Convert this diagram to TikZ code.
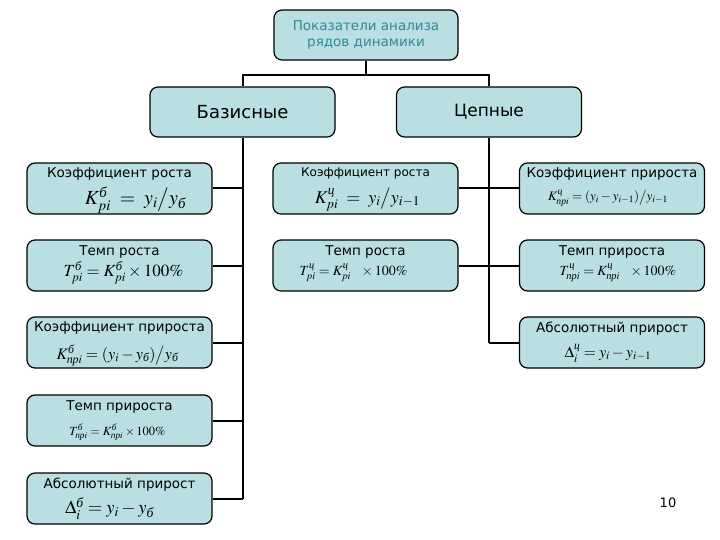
\documentclass[tikz,border=0pt]{standalone}
\usepackage{amsmath}
\usepackage{mathptmx}
\usepackage{fontspec}
\setmainfont{DejaVu Sans}
\newfontfamily\cyrserif{Liberation Serif}
\newcommand{\cy}[1]{\text{\cyrserif\itshape #1}}
\definecolor{boxfill}{HTML}{B9DFE3}
\definecolor{titleteal}{HTML}{2F8A92}
\tikzset{
  box/.style={draw=black, line width=1.2pt, fill=boxfill, rounded corners=8pt,
    minimum width=185pt, minimum height=51pt, inner sep=0pt},
  conn/.style={draw=black, line width=2pt},
  ttl/.style={font=\fontsize{13.5}{16}\selectfont, inner sep=0pt},
  frm/.style={inner sep=0pt}
}
\newcommand{\fs}[1]{\fontsize{#1}{#1}\selectfont}
\begin{document}
\begin{tikzpicture}[x=1pt,y={(0,-1pt)}]
\useasboundingbox[fill=white] (0,0) rectangle (720,540);
% top
\node[box, minimum width=184pt, minimum height=50pt, text=titleteal, align=center,
  font=\fontsize{13.5}{16}\selectfont] (top) at (366,35) {Показатели анализа\\рядов динамики};
\node[box, minimum height=50pt, font=\fontsize{18}{20}\selectfont] (bas) at (242.5,112) {Базисные};
\node[box, minimum height=50pt, font=\fontsize{17}{20}\selectfont] (cep) at (489,112) {Цепные};
% left column
\node[box] (l1) at (119.5,188.5) {};
\node[ttl] (l1t) at ([yshift=-12pt]l1.north) {Коэффициент роста};
\node[frm] (l1f) at ([xshift=16pt,yshift=-38pt]l1.north) {\fs{20}$K^{\cy{б}}_{pi} \;=\; y_i\big/ y_{\cy{б}}$};
\node[box] (l2) at (119.5,265.5) {};
\node[ttl] (l2t) at ([yshift=-13pt]l2.north) {Темп роста};
\node[frm] (l2f) at ([xshift=4pt,yshift=-33pt]l2.north) {\fs{17}$T^{\cy{б}}_{pi} = K^{\cy{б}}_{pi}\times 100\%$};
\node[box] (l3) at (119.5,342.5) {};
\node[ttl] (l3t) at ([yshift=-12pt]l3.north) {Коэффициент прироста};
\node[frm] (l3f) at ([xshift=-2pt,yshift=-39pt]l3.north) {\fs{16}$K^{\cy{б}}_{\cy{пр}i} = (y_i - y_{\cy{б}})\big/ y_{\cy{б}}$};
\node[box] (l4) at (119.5,420.5) {};
\node[ttl] (l4t) at ([yshift=-13pt]l4.north) {Темп прироста};
\node[frm] (l4f) at ([xshift=-2pt,yshift=-38pt]l4.north) {\fs{12.5}$T^{\cy{б}}_{\cy{пр}i} = K^{\cy{б}}_{\cy{пр}i}\times 100\%$};
\node[box] (l5) at (119.5,498.5) {};
\node[ttl] (l5t) at ([yshift=-12pt]l5.north) {Абсолютный прирост};
\node[frm] (l5f) at ([xshift=-10pt,yshift=-36pt]l5.north) {\fs{18.5}$\Delta^{\cy{б}}_i = y_i - y_{\cy{б}}$};
% middle column
\node[box] (m1) at (365.5,188.5) {};
\node[ttl, font=\fontsize{12}{14}\selectfont] (m1t) at ([yshift=-11pt]m1.north) {Коэффициент роста};
\node[frm] (m1f) at ([xshift=2pt,yshift=-37pt]m1.north) {\fs{18}$K^{\cy{ц}}_{pi} \;=\; y_i\big/ y_{i-1}$};
\node[box] (m2) at (365.5,265.5) {};
\node[ttl] (m2t) at ([yshift=-13pt]m2.north) {Темп роста};
\node[frm] (m2f) at ([xshift=-12pt,yshift=-33pt]m2.north) {\fs{14}$T^{\cy{ц}}_{pi} = K^{\cy{ц}}_{pi}\ \ \times 100\%$};
% right column
\node[box] (r1) at (612,188.5) {};
\node[ttl] (r1t) at ([yshift=-12pt]r1.north) {Коэффициент прироста};
\node[frm] (r1f) at ([xshift=-4pt,yshift=-36pt]r1.north) {\fs{13}$K^{\cy{ц}}_{\cy{пр}i} = (y_i - y_{i-1})\big/ y_{i-1}$};
\node[box] (r2) at (612,265.5) {};
\node[ttl] (r2t) at ([yshift=-13pt]r2.north) {Темп прироста};
\node[frm] (r2f) at ([xshift=6pt,yshift=-33pt]r2.north) {\fs{14}$T^{\cy{ц}}_{\cy{пр}i} = K^{\cy{ц}}_{\cy{пр}i}\ \ \times 100\%$};
\node[box] (r3) at (612,342.5) {};
\node[ttl] (r3t) at ([yshift=-12pt]r3.north) {Абсолютный прирост};
\node[frm] (r3f) at ([xshift=-4pt,yshift=-37pt]r3.north) {\fs{15.5}$\Delta^{\cy{ц}}_i = y_i - y_{i-1}$};
% connectors
\coordinate (hub) at (366,75);
\draw[conn] (top.south) -- (hub);
\draw[conn] (bas.north) |- (hub) -| (cep.north);
\draw[conn] (bas.south) -- (bas.south |- l5.east);
\foreach \n in {l1,l2,l3,l4,l5}{\draw[conn] (bas.south |- \n.east) -- (\n.east);}
\draw[conn] (cep.south) -- (cep.south |- r3.west);
\foreach \n in {m1,m2}{\draw[conn] (cep.south |- \n.east) -- (\n.east);}
\foreach \n in {r1,r2,r3}{\draw[conn] (cep.south |- \n.west) -- (\n.west);}
\node[font=\fontsize{13}{15}\selectfont] (pg) at (668,503) {10};
\end{tikzpicture}
\end{document}
